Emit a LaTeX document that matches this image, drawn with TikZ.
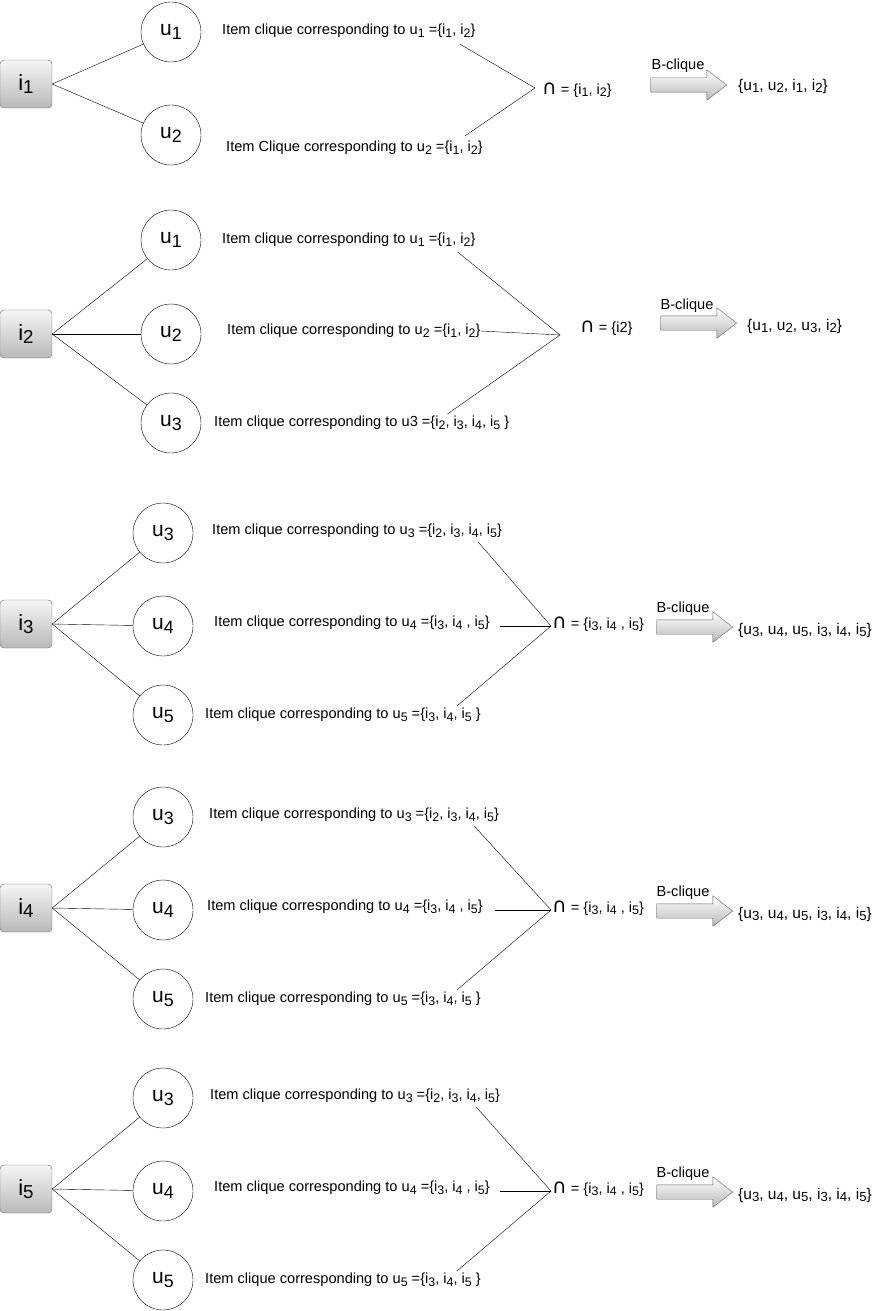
\documentclass[tikz,border=0pt]{standalone}
\usepackage{fontspec}
\setmainfont{Liberation Sans}
\newfontfamily\capfont{DejaVu Sans}
\usetikzlibrary{shapes,arrows,calc,positioning}

\tikzstyle{line} = [draw, thin]
\tikzstyle{item} = [rectangle, rounded corners=4pt, draw=gray!80!black, top color=gray!8, bottom color=gray!55, minimum width=52pt, minimum height=48pt, inner sep=0pt, font=\fontsize{22}{24}\selectfont]
\tikzstyle{user} = [circle, draw, minimum size=60pt, inner sep=0pt, font=\fontsize{21}{24}\selectfont]
\tikzstyle{clique} = [anchor=west, inner sep=0pt, font=\fontsize{14.6}{16}\selectfont]
\tikzstyle{bclique} = [single arrow, draw=gray!75!black, top color=white, bottom color=gray!55, single arrow head extend=8pt, single arrow tip angle=75, minimum height=76pt, minimum width=30pt, inner sep=0pt]
\tikzstyle{tag} = [inner sep=0pt, font=\fontsize{14.6}{16}\selectfont]
\tikzstyle{result} = [anchor=west, inner sep=0pt, font=\fontsize{15.5}{17}\selectfont]

\newcommand{\inter}{{\capfont\fontsize{20}{20}\selectfont ∩}}
\newcommand{\lo}[1]{\raisebox{-0.3ex}{\scalebox{0.85}{#1}}}

\begin{document}
\begin{tikzpicture}[x=1pt, y=-1pt]
\useasboundingbox (0,0) rectangle (885,1311);

% item i1
\node [item] (i1) at (26,84) {i\lo{1}};
\node [user] (s1u1) at (171,32) {u\lo{1}};
\node [user] (s1u2) at (171,135) {u\lo{2}};
\node [clique] (s1t1) at (222,31) {Item clique corresponding to u\lo{1} =\{i\lo{1}, i\lo{2}\}};
\node [clique] (s1t2) at (226,148) {Item Clique corresponding to u\lo{2} =\{i\lo{1}, i\lo{2}\}};
\coordinate (s1m) at (535,88);
\node [clique] (s1cap) at (542,90) {\inter{} = \{i\lo{1}, i\lo{2}\}};
\node [bclique] (s1arr) at (684,85) {\rule{0pt}{14pt}};
\node [tag] at (678,66) {B-clique};
\node [result] (s1res) at (738,86) {\{u\lo{1}, u\lo{2}, i\lo{1}, i\lo{2}\}};

\path [line] (i1.east) -- (s1u1);
\path [line] (i1.east) -- (s1u2);
\path [line] ($(s1t1.south east)+(-16,6)$) -- (s1m);
\path [line] ($(s1t2.north east)+(-18,-5)$) -- (s1m);

% item i2
\node [item] (i2) at (26,334) {i\lo{2}};
\node [user] (s2u1) at (171,240) {u\lo{1}};
\node [user] (s2u2) at (171,334) {u\lo{2}};
\node [user] (s2u3) at (171,423) {u\lo{3}};
\node [clique] (s2t1) at (222,240) {Item clique corresponding to u\lo{1} =\{i\lo{1}, i\lo{2}\}};
\node [clique] (s2t2) at (227,331) {Item clique corresponding to u\lo{2} =\{i\lo{1}, i\lo{2}\}};
\node [clique] (s2t3) at (214,423) {Item clique corresponding to u3 =\{i\lo{2}, i\lo{3}, i\lo{4}, i\lo{5} \}};
\coordinate (s2m) at (560,335);
\node [clique] (s2cap) at (580,328) {\inter{} = \{i2\}};
\node [bclique] (s2arr) at (694,323) {\rule{0pt}{14pt}};
\node [tag] at (687,306) {B-clique};
\node [result] (s2res) at (747,326) {\{u\lo{1}, u\lo{2}, u\lo{3}, i\lo{2}\}};

\path [line] (i2.east) -- (s2u1);
\path [line] (i2.east) -- (s2u2);
\path [line] (i2.east) -- (s2u3);
\path [line] ($(s2t1.south east)+(-18,5)$) -- (s2m);
\path [line] (s2t2.east) -- (s2m);
\path [line] ($(s2t3.north east)+(-62,-2)$) -- (s2m);

% item i3
\node [item] (i3) at (26,624) {i\lo{3}};
\node [user] (s3u3) at (163,533) {u\lo{3}};
\node [user] (s3u4) at (163,626) {u\lo{4}};
\node [user] (s3u5) at (163,715) {u\lo{5}};
\node [clique] (s3t1) at (212,531) {Item clique corresponding to u\lo{3} =\{i\lo{2}, i\lo{3}, i\lo{4}, i\lo{5}\}};
\node [clique] (s3t2) at (214,623) {Item clique corresponding to u\lo{4} =\{i\lo{3}, i\lo{4} , i\lo{5}\}};
\node [clique] (s3t3) at (205,715) {Item clique corresponding to u\lo{5} =\{i\lo{3}, i\lo{4}, i\lo{5} \}};
\coordinate (s3m) at (551,626);
\node [clique] (s3cap) at (552,624) {\inter{} = \{i\lo{3}, i\lo{4} , i\lo{5}\}};
\node [bclique] (s3arr) at (690,627) {\rule{0pt}{14pt}};
\node [tag] at (683,609) {B-clique};
\node [result] (s3res) at (738,630) {\{u\lo{3}, u\lo{4}, u\lo{5}, i\lo{3}, i\lo{4}, i\lo{5}\}};

\path [line] (i3.east) -- (s3u3);
\path [line] (i3.east) -- (s3u4);
\path [line] (i3.east) -- (s3u5);
\path [line] ($(s3t1.south east)+(-24,4)$) -- (s3m);
\path [line] ($(s3t2.east)+(10,3)$) -- (s3m);
\path [line] ($(s3t3.north east)+(-24,-2)$) -- (s3m);

% item i4
\node [item] (i4) at (26,908) {i\lo{4}};
\node [user] (s4u3) at (163,817) {u\lo{3}};
\node [user] (s4u4) at (163,910) {u\lo{4}};
\node [user] (s4u5) at (163,999) {u\lo{5}};
\node [clique] (s4t1) at (209,815) {Item clique corresponding to u\lo{3} =\{i\lo{2}, i\lo{3}, i\lo{4}, i\lo{5}\}};
\node [clique] (s4t2) at (207,907) {Item clique corresponding to u\lo{4} =\{i\lo{3}, i\lo{4} , i\lo{5}\}};
\node [clique] (s4t3) at (205,999) {Item clique corresponding to u\lo{5} =\{i\lo{3}, i\lo{4}, i\lo{5} \}};
\coordinate (s4m) at (551,910);
\node [clique] (s4cap) at (552,908) {\inter{} = \{i\lo{3}, i\lo{4} , i\lo{5}\}};
\node [bclique] (s4arr) at (690,911) {\rule{0pt}{14pt}};
\node [tag] at (683,893) {B-clique};
\node [result] (s4res) at (738,914) {\{u\lo{3}, u\lo{4}, u\lo{5}, i\lo{3}, i\lo{4}, i\lo{5}\}};

\path [line] (i4.east) -- (s4u3);
\path [line] (i4.east) -- (s4u4);
\path [line] (i4.east) -- (s4u5);
\path [line] ($(s4t1.south east)+(-25,4)$) -- (s4m);
\path [line] ($(s4t2.east)+(12,3)$) -- (s4m);
\path [line] ($(s4t3.north east)+(-24,-2)$) -- (s4m);

% item i5
\node [item] (i5) at (26,1189) {i\lo{5}};
\node [user] (s5u3) at (163,1098) {u\lo{3}};
\node [user] (s5u4) at (163,1191) {u\lo{4}};
\node [user] (s5u5) at (163,1280) {u\lo{5}};
\node [clique] (s5t1) at (210,1096) {Item clique corresponding to u\lo{3} =\{i\lo{2}, i\lo{3}, i\lo{4}, i\lo{5}\}};
\node [clique] (s5t2) at (214,1188) {Item clique corresponding to u\lo{4} =\{i\lo{3}, i\lo{4} , i\lo{5}\}};
\node [clique] (s5t3) at (205,1280) {Item clique corresponding to u\lo{5} =\{i\lo{3}, i\lo{4}, i\lo{5} \}};
\coordinate (s5m) at (551,1191);
\node [clique] (s5cap) at (552,1189) {\inter{} = \{i\lo{3}, i\lo{4} , i\lo{5}\}};
\node [bclique] (s5arr) at (690,1192) {\rule{0pt}{14pt}};
\node [tag] at (683,1174) {B-clique};
\node [result] (s5res) at (738,1195) {\{u\lo{3}, u\lo{4}, u\lo{5}, i\lo{3}, i\lo{4}, i\lo{5}\}};

\path [line] (i5.east) -- (s5u3);
\path [line] (i5.east) -- (s5u4);
\path [line] (i5.east) -- (s5u5);
\path [line] ($(s5t1.south east)+(-24,4)$) -- (s5m);
\path [line] ($(s5t2.east)+(10,3)$) -- (s5m);
\path [line] ($(s5t3.north east)+(-24,-2)$) -- (s5m);

\end{tikzpicture}
\end{document}
